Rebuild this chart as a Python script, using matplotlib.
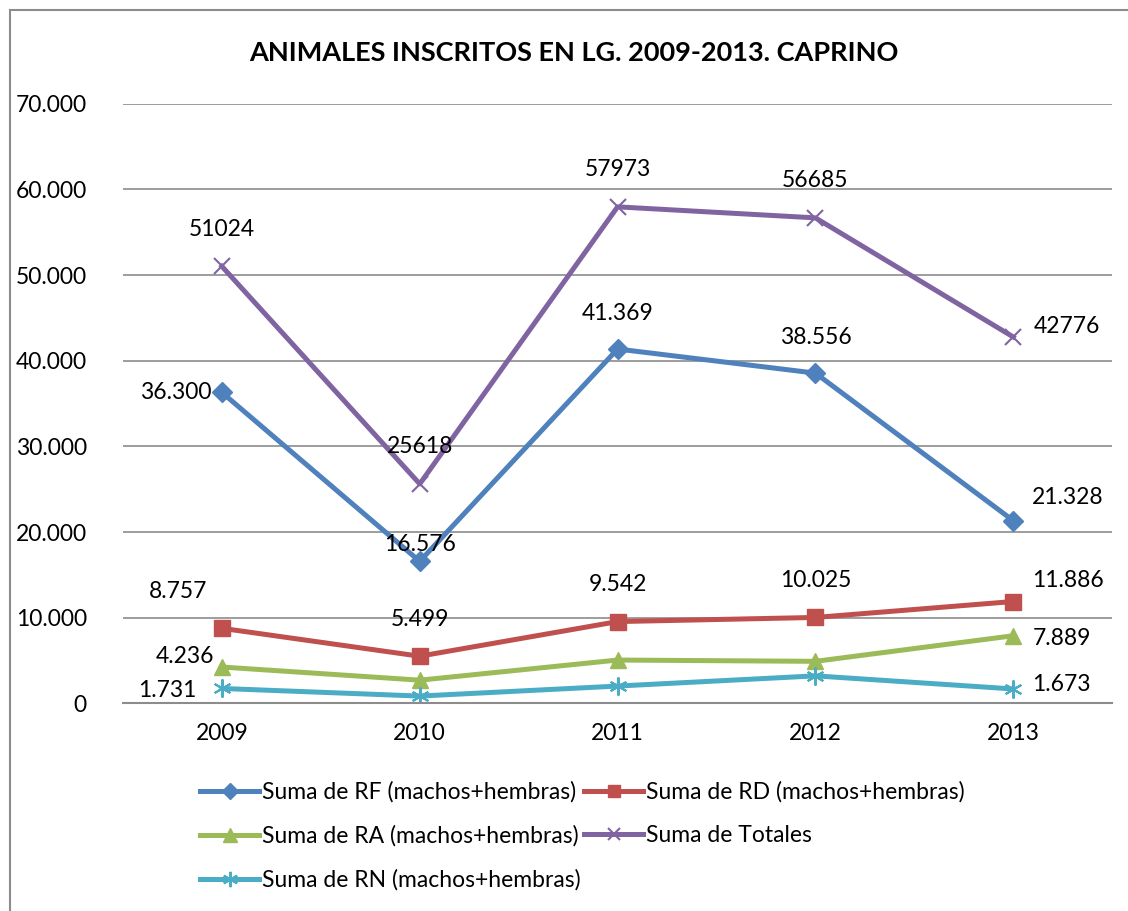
import matplotlib.pyplot as plt
from matplotlib.patches import Rectangle
from matplotlib.ticker import FuncFormatter

plt.rcParams['font.family'] = ['Lato', 'DejaVu Sans']

# Data
years = ["2009", "2010", "2011", "2012", "2013"]
rf = [36300, 16576, 41369, 38556, 21328]
rd = [8757, 5499, 9542, 10025, 11886]
ra = [4236, 2700, 5050, 4900, 7889]
totales = [51024, 25618, 57973, 56685, 42776]
rn = [1731, 843, 2012, 3204, 1673]

names = ["Suma de RF (machos+hembras)", "Suma de RD (machos+hembras)",
         "Suma de RA (machos+hembras)", "Suma de Totales",
         "Suma de RN (machos+hembras)"]


def dots(v):
    return f"{int(v):,}".replace(",", ".")


fig = plt.figure(figsize=(11.28, 9.11), dpi=100)
ax = fig.add_axes([0.109, 0.228, 0.877, 0.658])
x = range(len(years))

lw = 3.6
h_rf, = ax.plot(x, rf, color="#4F81BD", lw=lw, marker="D", ms=10, label=names[0])
h_rd, = ax.plot(x, rd, color="#C0504D", lw=lw, marker="s", ms=11, label=names[1])
h_ra, = ax.plot(x, ra, color="#9BBB59", lw=lw, marker="^", ms=12, label=names[2])
h_tot, = ax.plot(x, totales, color="#8064A2", lw=lw, marker="x", ms=11, mew=1.5, label=names[3])
h_rn, = ax.plot(x, rn, color="#4BACC6", lw=lw, marker=(6, 2, 0), ms=13, mew=1.5, label=names[4])

fs = 16.5


def lab(i, v, txt, dx, dy, ha="center"):
    ax.annotate(txt, (i, v), xytext=(dx, dy), textcoords="offset pixels",
                ha=ha, va="center", fontsize=fs)


# RF labels
lab(0, rf[0], dots(rf[0]), -10, 0, "right")
for i in (1, 2, 3):
    lab(i, rf[i], dots(rf[i]), 0, 36 if i > 1 else 17)
lab(4, rf[4], dots(rf[4]), 19, 23, "left")
# Totales labels
for i in range(4):
    lab(i, totales[i], str(totales[i]), 0, 37)
lab(4, totales[4], str(totales[4]), 20, 10, "left")
# RD labels
lab(0, rd[0], dots(rd[0]), -44, 37)
for i in (1, 2, 3):
    lab(i, rd[i], dots(rd[i]), 0, 37)
lab(4, rd[4], dots(rd[4]), 19, 21, "left")
# RA labels
lab(0, ra[0], dots(ra[0]), -8, 11, "right")
lab(4, ra[4], dots(ra[4]), 19, -3, "left")
# RN labels
lab(0, rn[0], dots(rn[0]), -25, -2, "right")
lab(4, rn[4], dots(rn[4]), 19, 4, "left")

ax.set_xlim(-0.5, 4.5)
ax.set_ylim(0, 70000)
ax.set_yticks(range(0, 70001, 10000))
ax.yaxis.set_major_formatter(FuncFormatter(lambda v, p: dots(v)))
ax.set_xticks(list(x))
ax.set_xticklabels(years)
ax.tick_params(axis="both", length=0, labelsize=fs)
ax.tick_params(axis="x", pad=14)
ax.tick_params(axis="y", pad=26)
ax.grid(axis="y", color="#8c8c8c", lw=1.2)
ax.set_axisbelow(True)
for s in ("top", "right", "left"):
    ax.spines[s].set_visible(False)
ax.spines["bottom"].set_color("#8c8c8c")
ax.spines["bottom"].set_linewidth(1.5)

fig.text(0.509, 0.942, "ANIMALES INSCRITOS EN LG. 2009-2013. CAPRINO",
         ha="center", va="center", fontsize=19.5, fontweight="bold")

# chart border
fig.patches.append(Rectangle((10 / 1128, -0.05), 1.1, 1.05 - 10 / 911,
                             transform=fig.transFigure, fill=False,
                             edgecolor="#8c8c8c", lw=1.5))

fig.legend(handles=[h_rf, h_ra, h_rn, h_rd, h_tot], ncol=2,
           loc="upper left", bbox_to_anchor=(0.167, 0.155),
           frameon=False, fontsize=fs, handlelength=2.6, handletextpad=0.1,
           columnspacing=0.15, labelspacing=0.98, borderpad=0,
           markerscale=0.85)

fig.savefig("out.png", dpi=100)
